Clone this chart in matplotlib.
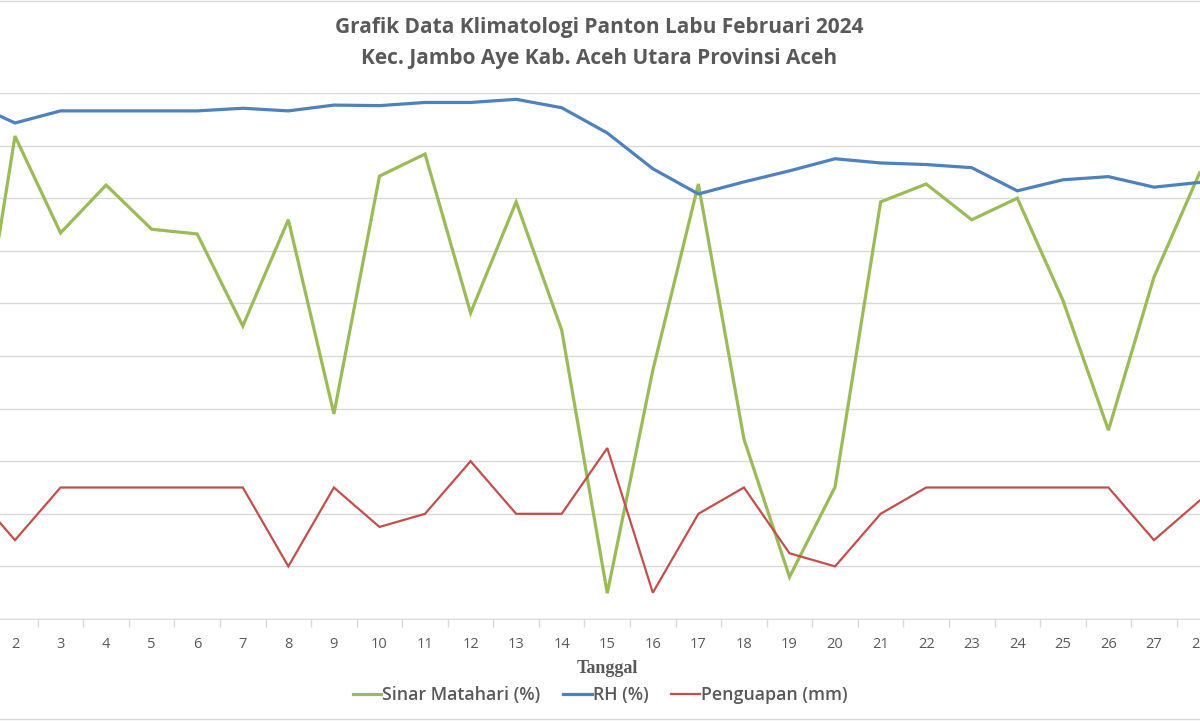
import numpy as np
import matplotlib.pyplot as plt
from matplotlib.lines import Line2D

tanggal = list(range(1, 29))
sinar = [37.5, 91.8, 73.4, 82.5, 74.1, 73.2, 55.7, 75.9, 39.0, 84.2,
         88.4, 58.2, 79.3, 54.9, 4.9, 47.3, 82.7, 34.2, 8.0, 25.1,
         79.3, 82.7, 75.9, 80.0, 60.6, 35.9, 65.0, 84.8]
rh = [98.3, 94.3, 96.6, 96.6, 96.6, 96.6, 97.1, 96.6, 97.7, 97.6,
      98.2, 98.2, 98.8, 97.2, 92.4, 85.6, 80.8, 83.1, 85.2, 87.5,
      86.7, 86.4, 85.8, 81.4, 83.5, 84.1, 82.1, 83.0]
penguapan = [2.5, 1.5, 2.5, 2.5, 2.5, 2.5, 2.5, 1.0, 2.5, 1.75,
             2.0, 3.0, 2.0, 2.0, 3.25, 0.5, 2.0, 2.5, 1.25, 1.0,
             2.0, 2.5, 2.5, 2.5, 2.5, 2.5, 1.5, 2.25]

hijau = '#9BBB59'
biru = '#4F81BD'
merah = '#C0504D'
abu = '#595959'

fig = plt.figure(figsize=(12, 7.21), dpi=100)
ax = fig.add_axes([0, (721 - 619) / 721, 1, (619 - 93) / 721])
ax2 = ax.twinx()

ax.plot(tanggal, sinar, color=hijau, lw=2.3, solid_joinstyle='miter')
ax.plot(tanggal, rh, color=biru, lw=2.3, solid_joinstyle='miter')
ax2.plot(tanggal, penguapan, color=merah, lw=1.6, solid_joinstyle='miter')

ax.set_yticks(np.arange(0, 101, 10))
ax.yaxis.grid(True, color='#D9D9D9', lw=1)
ax.set_axisbelow(True)
ax.tick_params(axis='y', left=False, labelleft=False)
ax2.tick_params(axis='y', right=False, labelright=False)

ax.set_xticks(tanggal)
ax.set_xticklabels([str(t) for t in tanggal], fontsize=10.5, color=abu, family='Open Sans')
ax.set_xticks(np.arange(0.5, 29, 1), minor=True)
ax.tick_params(axis='x', which='major', length=0, pad=13)
ax.tick_params(axis='x', which='minor', length=6, color='#D9D9D9', width=1)

# limits after the ticks, otherwise set_xticks widens them
ax.set_xlim(1.671, 28.01)
ax.set_ylim(0, 100)
ax2.set_ylim(0, 10)

for a in (ax, ax2):
    for s in a.spines.values():
        s.set_visible(False)
ax.spines['bottom'].set_visible(True)
ax.spines['bottom'].set_color('#D9D9D9')

fig.text(0.499, 0.962, 'Grafik Data Klimatologi Panton Labu Februari 2024',
         ha='center', va='center', fontsize=15, fontweight='bold', color=abu, family='Open Sans')
fig.text(0.499, 0.919, 'Kec. Jambo Aye Kab. Aceh Utara Provinsi Aceh',
         ha='center', va='center', fontsize=15, fontweight='bold', color=abu, family='Open Sans')
fig.text(0.506, 0.073, 'Tanggal', ha='center', va='center', fontsize=13,
         fontweight='bold', color=abu, family='Liberation Serif')

handles = [Line2D([], [], color=hijau, lw=2.3),
           Line2D([], [], color=biru, lw=2.3),
           Line2D([], [], color=merah, lw=1.6)]
fig.legend(handles, ['Sinar Matahari (%)', 'RH (%)', 'Penguapan (mm)'],
           loc='center', bbox_to_anchor=(0.5, 0.036), ncol=3, frameon=False,
           handlelength=1.6, handletextpad=0.05, columnspacing=1.3,
           prop={'family': 'Open Sans', 'size': 12.8, 'weight': 'semibold'}, labelcolor=abu)

fig.add_artist(Line2D([0, 1], [0.998, 0.998], color='#D9D9D9', lw=1, transform=fig.transFigure))
fig.add_artist(Line2D([0, 1], [0.003, 0.003], color='#D9D9D9', lw=1, transform=fig.transFigure))

fig.savefig('out.png', dpi=100)
